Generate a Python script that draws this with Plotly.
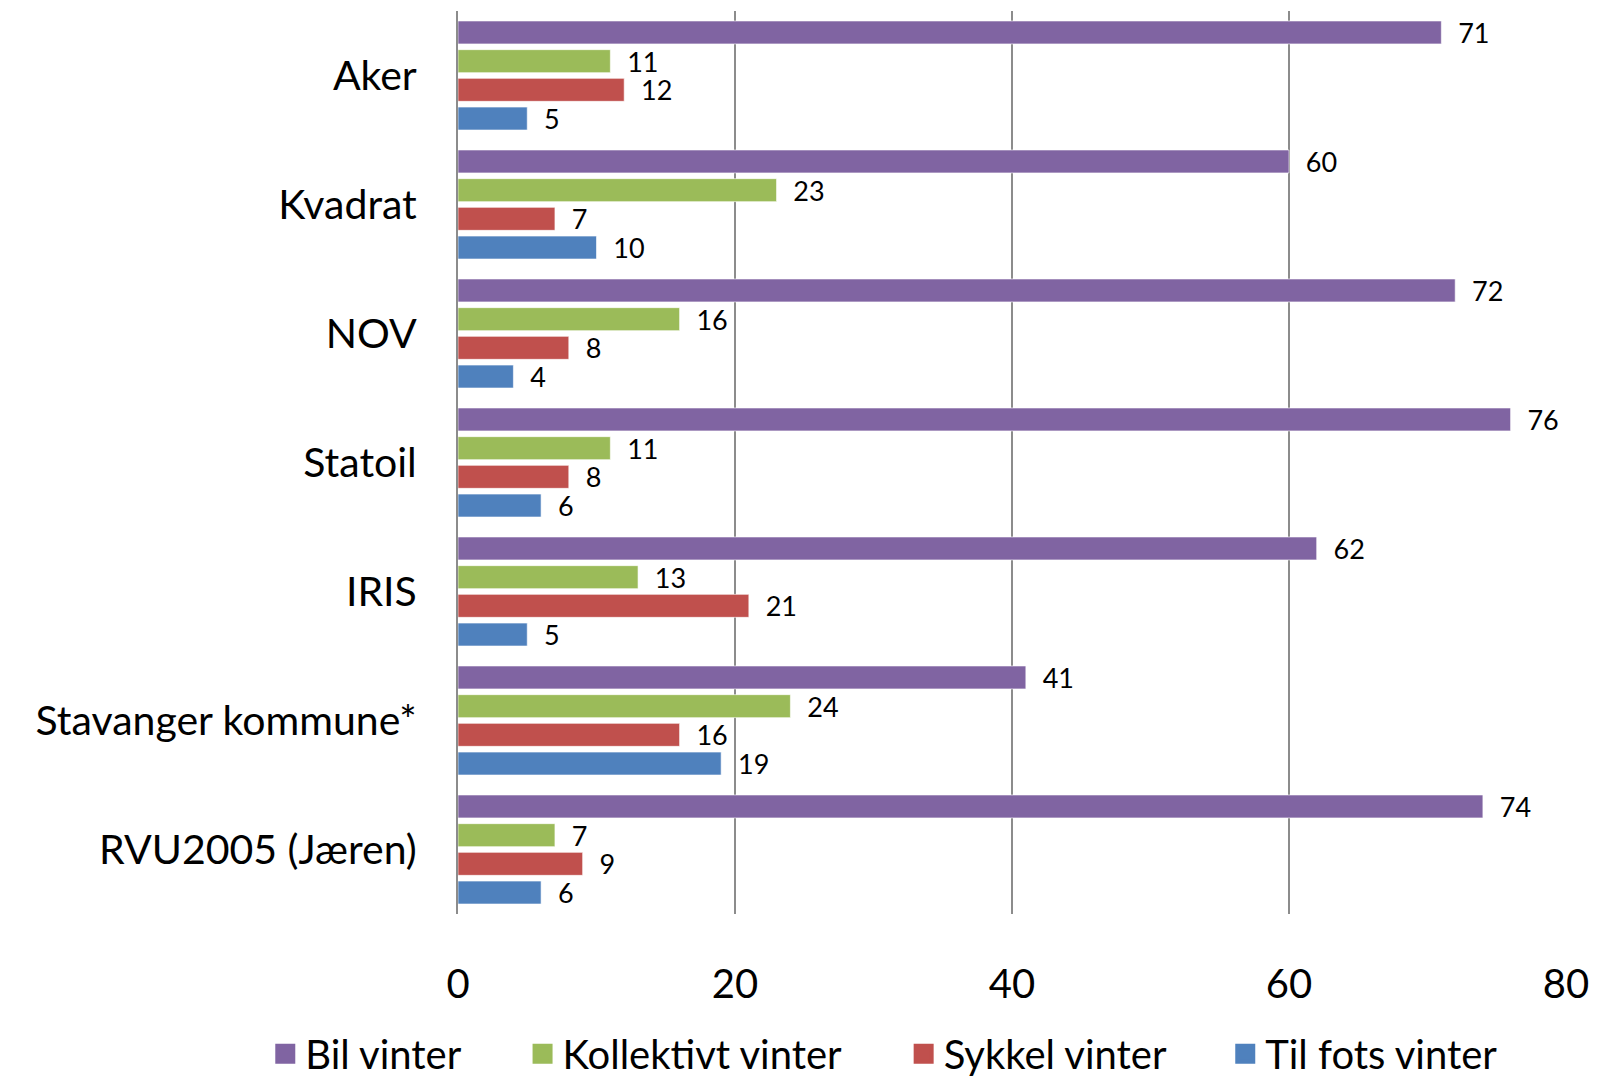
import plotly.graph_objects as go

categories = ["Aker", "Kvadrat", "NOV", "Statoil", "IRIS", "Stavanger kommune*", "RVU2005 (Jæren)"]
series_names = ["Bil vinter", "Kollektivt vinter", "Sykkel vinter", "Til fots vinter"]
bil = [71, 60, 72, 76, 62, 41, 74]
kollektivt = [11, 23, 16, 11, 13, 24, 7]
sykkel = [12, 7, 8, 8, 21, 16, 9]
til_fots = [5, 10, 4, 6, 5, 19, 6]
x_ticks = [0, 20, 40, 60, 80]

colors = ["#8064A2", "#9BBB59", "#C0504D", "#4F81BD"]
legend_x = [0.160, 0.320, 0.557, 0.757]
FONT = "Lato, 'Open Sans', sans-serif"

fig = go.Figure()
for name, vals, col in zip(series_names, [bil, kollektivt, sykkel, til_fots], colors):
    fig.add_trace(go.Bar(
        y=categories, x=vals, name=name, orientation="h",
        marker=dict(color=col, line=dict(color="rgba(255,255,255,0.6)", width=1)),
        text=vals, texttemplate="  %{x}", textposition="outside",
        textfont=dict(family=FONT, size=27, color="#000"),
        constraintext="none", cliponaxis=False, showlegend=False,
    ))

legend_layout = {}
for i, (name, col, lx) in enumerate(zip(series_names, colors, legend_x)):
    lid = "legend" if i == 0 else f"legend{i+1}"
    fig.add_trace(go.Scatter(
        x=[None], y=[None], mode="markers", name=name, legend=lid,
        marker=dict(symbol="square", size=22, color=col, line=dict(color=col, width=4)),
        showlegend=True,
    ))
    legend_layout[lid] = dict(
        orientation="h", xref="container", yref="container",
        x=lx, y=0.03, xanchor="left", yanchor="middle",
        font=dict(family=FONT, size=40), itemsizing="trace",
        bgcolor="rgba(0,0,0,0)",
    )

fig.update_layout(
    width=1608, height=1078,
    barmode="group", bargap=0.11, bargroupgap=0.2,
    plot_bgcolor="white", paper_bgcolor="white",
    margin=dict(l=450, r=50, t=3, b=172),
    font=dict(family=FONT, color="#000"),
    xaxis=dict(
        range=[0, 80], tickvals=x_ticks, showgrid=True, gridcolor="#8c8c8c", gridwidth=2,
        zeroline=False, showline=False, tickfont=dict(family=FONT, size=40),
        ticklabelstandoff=43,
    ),
    yaxis=dict(
        autorange="reversed", showline=True, linecolor="#8c8c8c", linewidth=2,
        showgrid=False, tickfont=dict(family=FONT, size=41), ticklabelstandoff=31,
    ),
    **legend_layout,
)

fig.write_html("out.html")
